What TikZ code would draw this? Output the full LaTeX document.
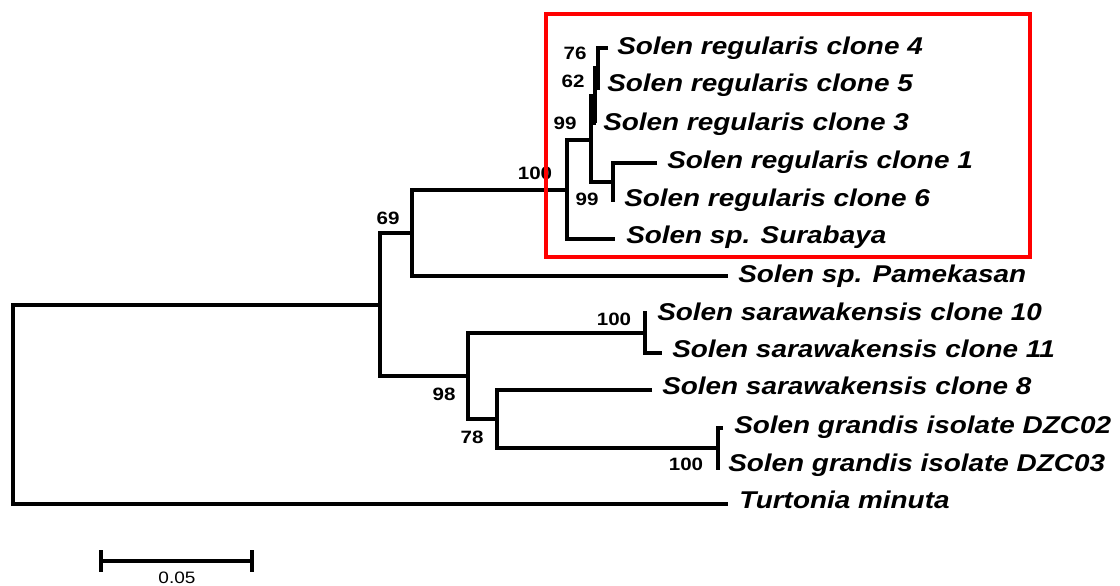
\documentclass[tikz,border=0pt]{standalone}
\usepackage{fontspec}
\setmainfont{Liberation Sans}
\newfontfamily\labfont[FakeStretch=1.15]{Liberation Sans}
\begin{document}
\begin{tikzpicture}[x=0.75pt,y=-0.75pt,
  branch/.style={line width=3pt,line join=miter,line cap=butt},
  taxon/.style={anchor=base west,inner sep=0pt,font=\labfont\fontsize{18.2pt}{20pt}\selectfont\bfseries\itshape},
  boot/.style={anchor=center,inner sep=0pt,font=\labfont\fontsize{13.4pt}{15pt}\selectfont\bfseries},
  scaletext/.style={anchor=center,inner sep=0pt,font=\labfont\fontsize{12.4pt}{14pt}\selectfont}]
\useasboundingbox (0,0) rectangle (1120,585);
% internal nodes
\coordinate (root) at (13,404);
\coordinate (nA) at (380,305);
\coordinate (n69) at (412,233);
\coordinate (n100) at (567,190);
\coordinate (n99a) at (591,140);
\coordinate (n62) at (594.5,95.5);
\coordinate (n76) at (598,68);
\coordinate (n99b) at (613,181.5);
\coordinate (n98) at (468,375.5);
\coordinate (n100s) at (645,333);
\coordinate (n78) at (497,419);
\coordinate (n100g) at (718,448);
% tips
\coordinate (t4) at (608,48);
\coordinate (t5) at (599.5,88);
\coordinate (t3) at (596,123);
\coordinate (t1) at (657,163);
\coordinate (t6) at (614.5,200);
\coordinate (tsur) at (615,239);
\coordinate (tpam) at (728,276);
\coordinate (t10) at (646.5,313);
\coordinate (t11) at (662,353);
\coordinate (t8) at (652,390);
\coordinate (tg2) at (723,428);
\coordinate (tg3) at (719.5,468);
\coordinate (ttur) at (728,504);
% branches
\draw[branch] (nA) -| (root) |- (ttur);
\draw[branch] (n69) -| (nA) |- (n98);
\draw[branch] (n100) -| (n69) |- (tpam);
\draw[branch] (n99a) -| (n100) |- (tsur);
\draw[branch] (n62) -| (n99a) |- (n99b);
\draw[branch] (n76) -| (n62) |- (t3);
\draw[branch] (t4) -| (n76) |- (t5);
\draw[branch] (t1) -| (n99b) |- (t6);
\draw[branch] (n100s) -| (n98) |- (n78);
\draw[branch] (t10) -| (n100s) |- (t11);
\draw[branch] (t8) -| (n78) |- (n100g);
\draw[branch] (tg2) -| (n100g) |- (tg3);
% taxon labels
\node[taxon] (l4) at (617,55) {Solen regularis clone 4};
\node[taxon] (l5) at (607,92) {Solen regularis clone 5};
\node[taxon] (l3) at (603,130) {Solen regularis clone 3};
\node[taxon] (l1) at (667,168) {Solen regularis clone 1};
\node[taxon] (l6) at (624,206) {Solen regularis clone 6};
\node[taxon] (lsur) at (626,243.5) {Solen sp. Surabaya};
\node[taxon] (lpam) at (738,282.5) {Solen sp. Pamekasan};
\node[taxon] (l10) at (657,320) {Solen sarawakensis clone 10};
\node[taxon] (l11) at (672,357.5) {Solen sarawakensis clone 11};
\node[taxon] (l8) at (662,394) {Solen sarawakensis clone 8};
\node[taxon] (lg2) at (734,433) {Solen grandis isolate DZC02};
\node[taxon] (lg3) at (728,471) {Solen grandis isolate DZC03};
\node[taxon] (ltur) at (739,508) {Turtonia minuta};
% bootstrap values
\node[boot] (b76) at (575,53) {76};
\node[boot] (b62) at (573,81) {62};
\node[boot] (b99a) at (565,123) {99};
\node[boot] (b99b) at (587,199) {99};
\node[boot] (b100) at (535,173) {100};
\node[boot] (b69) at (388,218) {69};
\node[boot] (b100s) at (614,319) {100};
\node[boot] (b98) at (444,394) {98};
\node[boot] (b78) at (472,437) {78};
\node[boot] (b100g) at (686,464) {100};
% highlight box
\draw[red,line width=3pt] (546,14) rectangle (1030,257);
% scale bar
\coordinate (sL) at (101,561);
\coordinate (sR) at (252,561);
\draw[branch] (sL) -- (sR);
\draw[line width=3pt] ([yshift=8]sL) -- ([yshift=-8]sL);
\draw[line width=3pt] ([yshift=8]sR) -- ([yshift=-8]sR);
\node[scaletext] (slab) at (177,578) {0.05};
\end{tikzpicture}
\end{document}
